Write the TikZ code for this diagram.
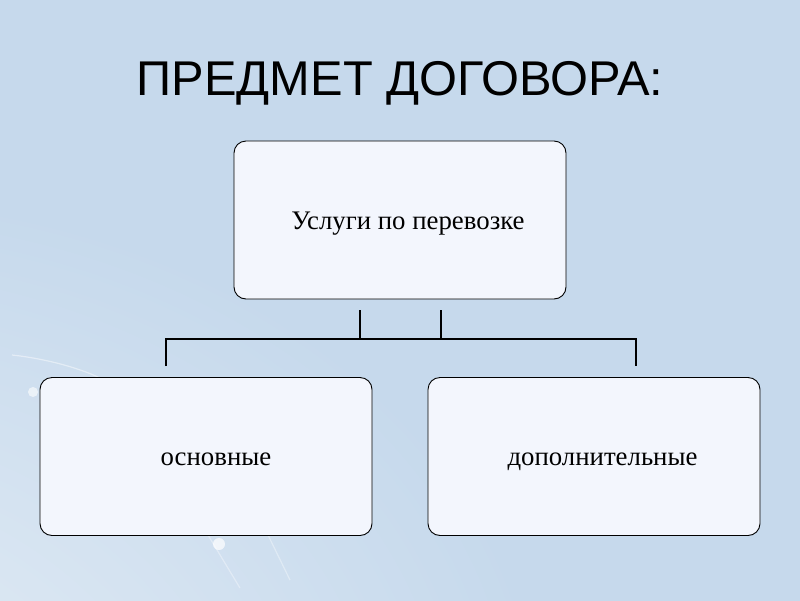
\documentclass[tikz,border=0pt]{standalone}
\usepackage{fontspec}
\setmainfont{Liberation Serif}
\newfontfamily\titlefont{Liberation Sans}
\definecolor{bg}{HTML}{C6D9EC}
\definecolor{boxfill}{HTML}{F3F6FD}
\pgfdeclareradialshading{cornerglow}{\pgfpoint{-50bp}{-50bp}}{%
  color(0bp)=(white); color(18bp)=(white!45!bg); color(45bp)=(bg); color(160bp)=(bg)}
\begin{document}
\begin{tikzpicture}[x=1pt,y=-1pt,
  box/.style={draw=black, line width=0.9pt, fill=boxfill, rounded corners=12pt,
    minimum width=332pt, minimum height=158pt, inner sep=0pt,
    text height=22pt, text depth=4pt,
    font=\fontsize{26.8}{30}\selectfont},
  conn/.style={draw=black, line width=2pt},
  swoosh/.style={draw=white, opacity=0.5, line width=1.2pt}]
\useasboundingbox (0,0) rectangle (800,600);
\shade[shading=cornerglow] (0,0) rectangle (800,600);
\begin{scope}
  \clip (0,0) rectangle (800,600);
  \draw[swoosh, opacity=0.45] (12,355) .. controls (40,358) and (75,366) .. (100,378);
  \draw[swoosh, opacity=0.35] (208,535) -- (240,588);
  \draw[swoosh, opacity=0.35] (268,535) -- (290,580);
  \fill[white, opacity=0.6] (33,392) circle (5pt);
  \fill[white, opacity=0.7] (219,544) circle (6pt);
\end{scope}

\node[font=\titlefont\fontsize{48.8}{56}\selectfont, anchor=base] (title) at (400,95) {ПРЕДМЕТ ДОГОВОРА:};

\node[box] (top) at (400,220) {\hspace*{16pt}Услуги по перевозке};
\node[box] (left) at (206,456.5) {\hspace*{20pt}основные};
\node[box] (right) at (594,456.5) {\hspace*{17pt}дополнительные};

\coordinate (a1) at ([xshift=-40pt,yshift=-11pt]top.south);
\coordinate (a2) at ([xshift=41pt,yshift=-11pt]top.south);
\coordinate (j1) at ([xshift=-40pt,yshift=-40pt]top.south);
\coordinate (j2) at ([xshift=41pt,yshift=-40pt]top.south);
\coordinate (b1) at ([xshift=-40pt,yshift=11pt]left.north);
\coordinate (b2) at ([xshift=42pt,yshift=11pt]right.north);
\coordinate (hl) at (b1 |- j1);
\coordinate (hr) at (b2 |- j1);

\draw[conn] (a1) -- (j1);
\draw[conn] (a2) -- (j2);
\draw[conn] (b1) -- (hl) -- (hr) -- (b2);
\end{tikzpicture}
\end{document}
